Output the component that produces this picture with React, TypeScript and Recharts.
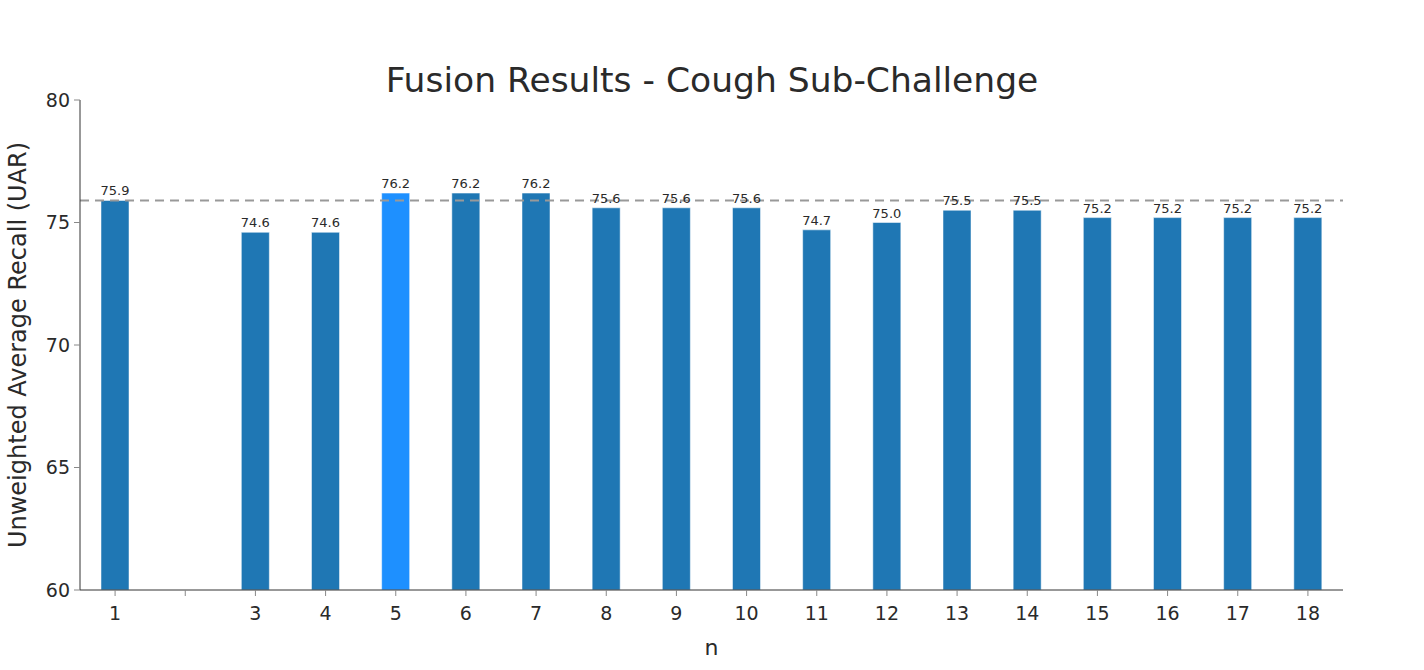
import React from 'react';
import { BarChart, Bar, XAxis, YAxis, ReferenceLine, LabelList, Cell } from 'recharts';

const nValues = [1, 3, 4, 5, 6, 7, 8, 9, 10, 11, 12, 13, 14, 15, 16, 17, 18];
const uarValues = [75.9, 74.6, 74.6, 76.2, 76.2, 76.2, 75.6, 75.6, 75.6, 74.7, 75.0, 75.5, 75.5, 75.2, 75.2, 75.2, 75.2];
const xTicks = [1, 2, 3, 4, 5, 6, 7, 8, 9, 10, 11, 12, 13, 14, 15, 16, 17, 18];
const yTicks = [60, 65, 70, 75, 80];
const baselineUar = 75.9;
const bestN = 5;

const data = nValues.map((n, i) => ({ n, uar: uarValues[i] }));

const FONT = '"DejaVu Sans", Verdana, sans-serif';
const TEXT = '#2a2a2a';

export default function App() {
  return (
    <div style={{ position: 'absolute', left: 0, top: 0, width: 1424, height: 670, fontFamily: FONT }}>
      <div
        style={{
          position: 'absolute',
          left: 0,
          width: 1424,
          top: 60,
          textAlign: 'center',
          fontSize: 34.5,
          color: TEXT,
          lineHeight: '40px',
        }}
      >
        Fusion Results - Cough Sub-Challenge
      </div>
      <BarChart
        width={1424}
        height={670}
        data={data}
        margin={{ top: 100, right: 81, bottom: 0, left: 0 }}
        barSize={28}
      >
        <XAxis
          dataKey="n"
          type="number"
          domain={[0.5, 18.5]}
          ticks={xTicks}
          interval={0}
          tickFormatter={(v) => (v === 2 ? '' : String(v))}
          height={80}
          stroke="#333"
          tickLine={{ stroke: '#888' }}
          tickSize={6}
          tick={{ fontSize: 19, fill: TEXT, fontFamily: FONT }}
          tickMargin={11}
          label={{ value: 'n', position: 'insideBottom', offset: 15, fontSize: 22, fill: TEXT, fontFamily: FONT }}
        />
        <YAxis
          type="number"
          domain={[60, 80]}
          ticks={yTicks}
          width={80}
          stroke="#333"
          tickLine={{ stroke: '#888' }}
          tickSize={6}
          tickMargin={4}
          tick={{ fontSize: 19, fill: TEXT, fontFamily: FONT }}
          label={{
            content: ({ viewBox }: any) => {
              const cy = viewBox.y + viewBox.height / 2;
              return (
                <text
                  x={18}
                  y={cy}
                  transform={`rotate(-90, 18, ${cy})`}
                  textAnchor="middle"
                  dominantBaseline="central"
                  fontSize={24}
                  fill={TEXT}
                  fontFamily={FONT}
                >
                  Unweighted Average Recall (UAR)
                </text>
              );
            },
          }}
        />
        <Bar dataKey="uar" fill="#1f77b4" stroke="#fff" strokeWidth={0.5} isAnimationActive={false}>
          {data.map((d) => (
            <Cell key={d.n} fill={d.n === bestN ? '#1E90FF' : '#1f77b4'} />
          ))}
          <LabelList
            dataKey="uar"
            position="top"
            offset={5}
            formatter={(v: any) => Number(v).toFixed(1)}
            style={{ fontSize: 13, fill: TEXT, fontFamily: FONT }}
          />
        </Bar>
        <ReferenceLine y={baselineUar} stroke="#999" strokeWidth={2} strokeDasharray="9 6" />
      </BarChart>
    </div>
  );
}
